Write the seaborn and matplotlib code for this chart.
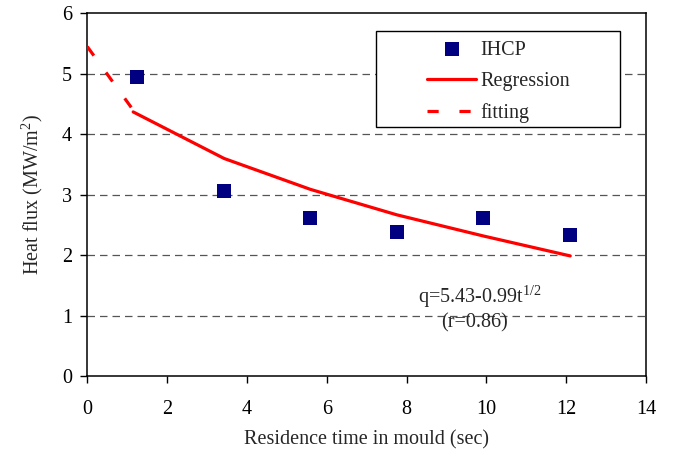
import matplotlib
matplotlib.use("Agg")
import matplotlib.pyplot as plt
import seaborn as sns
import pandas as pd
from matplotlib.patches import Rectangle

# Data
ihcp_time = [1.25, 3.43, 5.59, 7.75, 9.92, 12.1]
ihcp_flux = [4.95, 3.06, 2.61, 2.39, 2.61, 2.34]

regression_time = [1.15, 3.43, 5.59, 7.75, 9.92, 12.1]
regression_flux = [4.37, 3.60, 3.09, 2.67, 2.32, 1.99]

fitting_time = [0.0, 1.15]
fitting_flux = [5.45, 4.40]

x_ticks = [0, 2, 4, 6, 8, 10, 12, 14]
y_ticks = [0, 1, 2, 3, 4, 5, 6]

sns.set_style("white")
plt.rcParams['font.family'] = ['Liberation Serif', 'DejaVu Serif']
plt.rcParams['mathtext.fontset'] = 'custom'
plt.rcParams['mathtext.rm'] = 'Liberation Serif'
plt.rcParams['mathtext.it'] = 'Liberation Serif'

FS = 14.5

df_pts = pd.DataFrame({"t": ihcp_time, "q": ihcp_flux})
df_reg = pd.DataFrame({"t": regression_time, "q": regression_flux})
df_fit = pd.DataFrame({"t": fitting_time, "q": fitting_flux})

fig, ax = plt.subplots(figsize=(6.73, 4.51), dpi=100)
fig.subplots_adjust(left=0.1297, right=0.960, top=0.9705, bottom=0.1656)

for yv in y_ticks[1:-1]:
    ax.axhline(yv, color="#555555", lw=0.9, ls=(0, (6, 4)), zorder=1)

sns.lineplot(data=df_reg, x="t", y="q", ax=ax, color="#ff0000", lw=2.3,
             label="Regression", zorder=3)
sns.lineplot(data=df_fit, x="t", y="q", ax=ax, color="#ff0000", lw=2.3,
             label="fitting", zorder=3)
ax.lines[-1].set_linestyle((0, (3.5, 6.5)))
sns.scatterplot(data=df_pts, x="t", y="q", ax=ax, marker="s", s=90,
                color="#000080", linewidth=0, label="IHCP", zorder=4)

ax.set_xlim(0, 14)
ax.set_ylim(0, 6)
ax.set_xticks(x_ticks)
ax.set_yticks(y_ticks)
ax.tick_params(axis="both", direction="out", length=5, width=1, color="black",
               labelsize=FS, labelcolor="black", bottom=True, left=True)
ax.tick_params(axis="x", pad=12)
ax.tick_params(axis="y", pad=6)
for s in ax.spines.values():
    s.set_color("black")
    s.set_linewidth(1.1)

ax.set_xlabel("Residence time in mould (sec)", fontsize=FS, labelpad=8)
ax.set_ylabel(r"Heat flux (MW/m$^{2}$)", fontsize=FS, labelpad=12)

ax.text(9.83, 1.31, r"q=5.43-0.99t$^{1/2}$", fontsize=FS, ha="center", va="center")
ax.text(9.7, 0.88, "(r=0.86)", fontsize=FS, ha="center", va="center")

# legend frame
ax.add_patch(Rectangle((0.517, 0.687), 0.436, 0.264, transform=ax.transAxes,
                       facecolor="white", edgecolor="black", lw=1, zorder=5))
handles, labels = ax.get_legend_handles_labels()
order = [labels.index("IHCP"), labels.index("Regression"), labels.index("fitting")]
leg = ax.legend([handles[i] for i in order], [labels[i] for i in order],
                loc="upper left", bbox_to_anchor=(0.608, 0.925), frameon=False,
                borderpad=0, borderaxespad=0, handlelength=2.45, handletextpad=0.2,
                labelspacing=0.6, fontsize=FS)
leg.set_zorder(6)

fig.savefig("out.png", dpi=100)
